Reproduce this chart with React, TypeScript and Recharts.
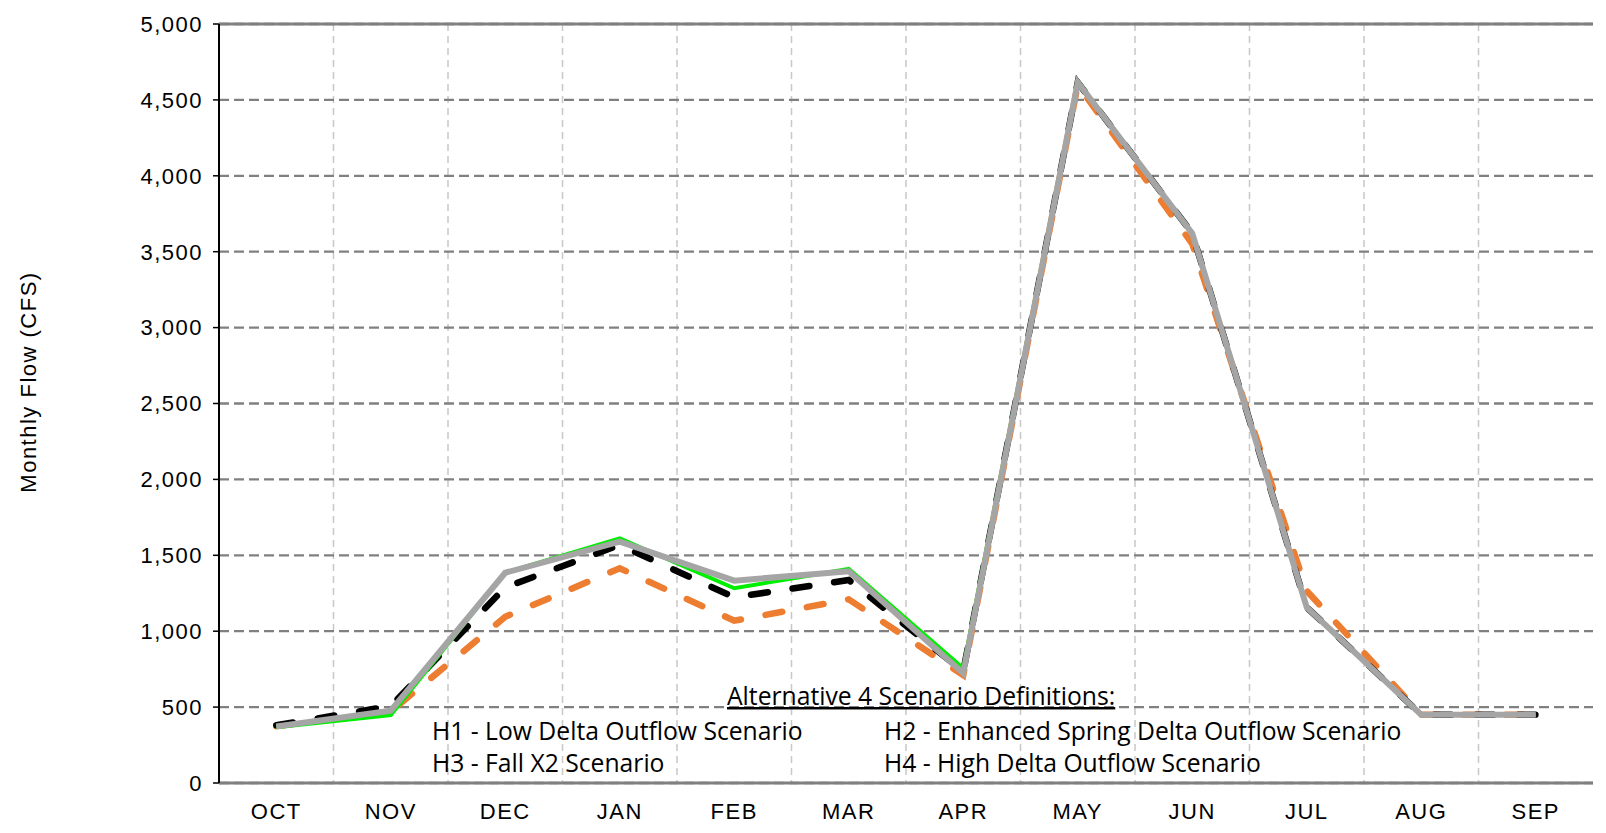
import { LineChart, Line, XAxis, YAxis, CartesianGrid, ReferenceLine } from "recharts";

const months = ["OCT", "NOV", "DEC", "JAN", "FEB", "MAR", "APR", "MAY", "JUN", "JUL", "AUG", "SEP"];
const yTicks = [0, 500, 1000, 1500, 2000, 2500, 3000, 3500, 4000, 4500, 5000];

const orangeDash = [375, 472, 1095, 1414, 1069, 1210, 711, 4600, 3552, 1265, 450, 450];
const blackDash = [380, 507, 1289, 1568, 1223, 1337, 735, 4615, 3621, 1157, 450, 450];
const greenLine = [368, 448, 1385, 1612, 1283, 1410, 756, 4625, 3621, 1157, 448, 448];
const grayLine = [372, 476, 1385, 1590, 1333, 1395, 723, 4615, 3621, 1157, 450, 450];

const legendTitle = "Alternative 4 Scenario Definitions:";
const legendRows = [
  ["H1 - Low Delta Outflow Scenario", "H2 - Enhanced Spring Delta Outflow Scenario"],
  ["H3 - Fall X2 Scenario", "H4 - High Delta Outflow Scenario"],
];

const data = months.map((m, i) => ({
  m,
  orange: orangeDash[i],
  black: blackDash[i],
  green: greenLine[i],
  gray: grayLine[i],
}));

const W = 1606;
const H = 833;
const axisFont = { fontSize: 22, fill: "#000", fontFamily: "'Liberation Sans', Arial, sans-serif", letterSpacing: 1.5 };

// vertical grid goes on the category boundaries, not the tick centres
const boundaryLines = ({ offset }: any) => {
  const step = offset.width / months.length;
  return months.slice(1).map((_, i) => offset.left + step * (i + 1));
};

export default function App() {
  return (
    <div style={{ position: "absolute", left: 0, top: 0, width: W, height: H, background: "#fff" }}>
      <LineChart width={W} height={H} data={data} margin={{ top: 24, right: 13, bottom: 0, left: 0 }}>
        <CartesianGrid horizontal={false} stroke="#c8c8c8" strokeWidth={1.5} strokeDasharray="7 5" verticalCoordinatesGenerator={boundaryLines} />
        <CartesianGrid vertical={false} stroke="#808080" strokeWidth={2.3} strokeDasharray="10 5" />
        <XAxis
          dataKey="m"
          scale="band"
          height={50}
          tick={axisFont}
          tickLine={false}
          tickSize={0}
          tickMargin={20}
          axisLine={{ stroke: "#808080", strokeWidth: 3 }}
        />
        <YAxis
          domain={[0, 5000]}
          ticks={yTicks}
          width={219}
          tick={axisFont}
          tickSize={6}
          tickMargin={10}
          tickLine={{ stroke: "#000", strokeWidth: 1.5 }}
          axisLine={{ stroke: "#000", strokeWidth: 2 }}
          tickFormatter={(v) => Number(v).toLocaleString("en-US")}
          label={{
            content: () => (
              <text
                x={28}
                y={382}
                transform="rotate(-90, 28, 382)"
                textAnchor="middle"
                dominantBaseline="central"
                style={{ ...axisFont }}
              >
                Monthly Flow (CFS)
              </text>
            ),
          }}
        />
        <YAxis yAxisId="right" orientation="right" width={0} domain={[0, 5000]} tick={false} tickLine={false} axisLine={{ stroke: "#808080", strokeWidth: 3 }} />
        <ReferenceLine y={5000} stroke="#808080" strokeWidth={3} />
        <Line dataKey="orange" stroke="#ed7d31" strokeWidth={6.5} strokeDasharray="17 25" strokeLinecap="round" dot={false} isAnimationActive={false} />
        <Line dataKey="black" stroke="#000" strokeWidth={6.5} strokeDasharray="17 25" strokeLinecap="round" dot={false} isAnimationActive={false} />
        <Line dataKey="green" stroke="#00ee00" strokeWidth={4} dot={false} isAnimationActive={false} />
        <Line dataKey="gray" stroke="#a5a5a5" strokeWidth={6} dot={false} isAnimationActive={false} />
      </LineChart>
      <svg width={W} height={H} style={{ position: "absolute", left: 0, top: 0, pointerEvents: "none" }}>
        <g style={{ fontFamily: "'Open Sans', sans-serif", fontSize: 24.7, fill: "#000" }}>
          <text x={727} y={705} style={{ textDecoration: "underline" }}>{legendTitle}</text>
          <text x={432} y={740}>{legendRows[0][0]}</text>
          <text x={884} y={740}>{legendRows[0][1]}</text>
          <text x={432} y={772}>{legendRows[1][0]}</text>
          <text x={884} y={772}>{legendRows[1][1]}</text>
        </g>
      </svg>
    </div>
  );
}
